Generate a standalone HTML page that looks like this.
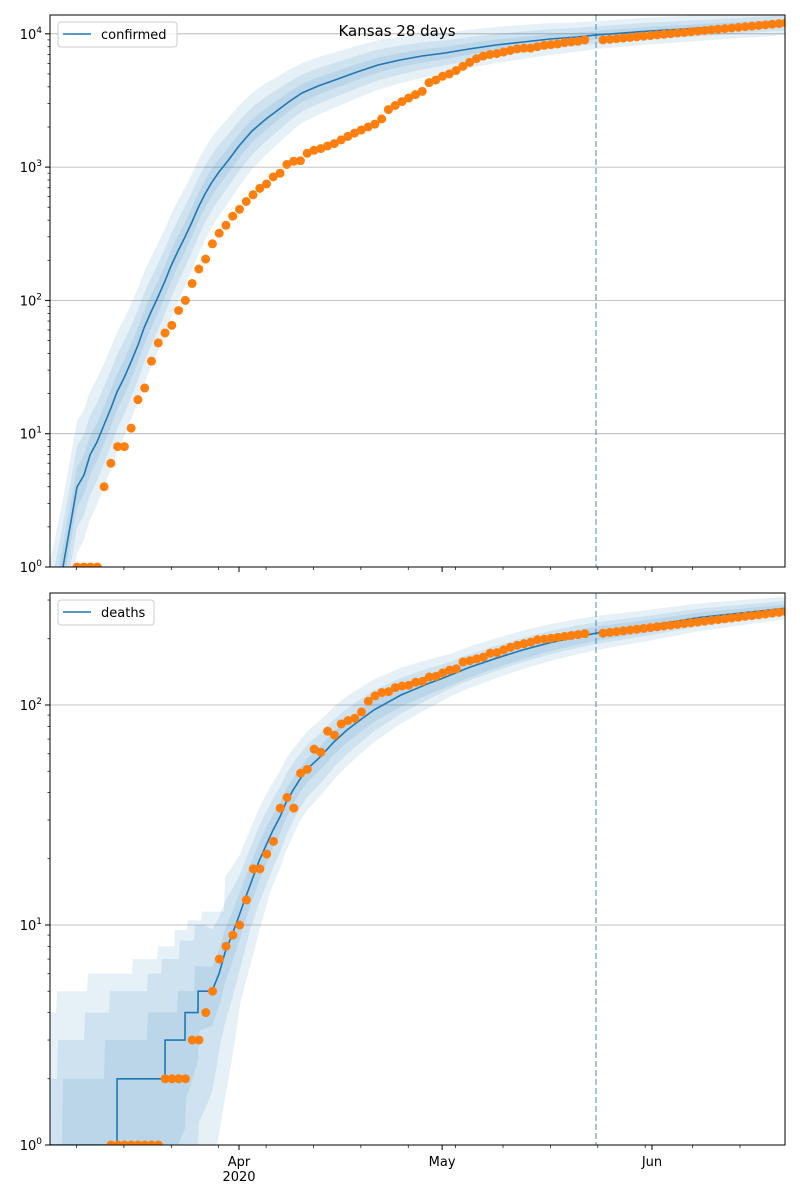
<!DOCTYPE html>
<html><head><meta charset="utf-8"><style>
html,body{margin:0;padding:0;background:#fff;}
svg{display:block;font-family:"DejaVu Sans","Liberation Sans",sans-serif;}
</style></head><body>
<svg id="s" width="800" height="1200" xmlns="http://www.w3.org/2000/svg"></svg>
<script>
const S=document.getElementById('s');
let h='';
const X0=50,X1=785;
function xd(d){return 239+d*6.77;}
function lerp(pts,x){if(x<=pts[0][0])return pts[0][1];for(let i=1;i<pts.length;i++){if(x<=pts[i][0]){const a=pts[i-1],b=pts[i];return a[1]+(b[1]-a[1])*(x-a[0])/(b[0]-a[0]);}}return pts[pts.length-1][1];}
function step(pts,x){let v=pts[0][1];for(const p of pts){if(x>=p[0])v=p[1];}return v;}
function clip(top,bot,id){h+=`<defs><clipPath id="${id}"><rect x="${X0}" y="${top}" width="${X1-X0}" height="${bot-top}"/></clipPath></defs>`;}
// ---------- TOP ----------
const T0=15,TB=567;
function yT(v){return TB-Math.log10(v)*133.3;}
clip(T0,TB,'c1');
for(let k=0;k<=4;k++){const y=TB-k*133.3;h+=`<line x1="${X0}" x2="${X1}" y1="${y}" y2="${y}" stroke="#b0b0b0" stroke-width="0.8"/>`;}
const lineT=[[63,567],[77,487],[84,475],[90,455],[97,442],[104,425],[111,408],[117,392],[124,378],[131,362],[138,345],[144,328],[151,312],[158,297],[165,281],[171,266],[178,251],[185,237],[192,222],[198,208],[205,194],[212,182],[219,172],[227,162],[239,146],[252,131],[266,119],[278,110],[290,101],[302,93],[318,86],[335,80],[357,72],[378,65],[400,60],[422,56],[445,53],[469,49],[496,45],[523,42],[550,39],[577,37],[596,35],[650,31],[700,28],[785,23]];
function bandT(scale){
  const off=[[50,70],[150,55],[230,42],[300,30],[450,20],[596,14],[785,12]];
  let up=[],lo=[];
  for(let x=50;x<=785;x+=3){const y=(x<63?567+(63-x)*5:lerp(lineT,x));const o=lerp(off,x)*scale;up.push([x,y-o]);lo.push([x,y+o]);}
  return up.map(p=>p.join(',')).join(' ')+' '+lo.reverse().map(p=>p.join(',')).join(' ');
}
h+=`<g clip-path="url(#c1)">`;
[1,0.62,0.3].forEach(s=>{h+=`<polygon points="${bandT(s)}" fill="#1f77b4" fill-opacity="0.11"/>`;});
h+=`<polyline points="${lineT.map(p=>p.join(',')).join(' ')}" fill="none" stroke="#1f77b4" stroke-width="1.6"/>`;
h+=`<line x1="596" x2="596" y1="${T0}" y2="${TB}" stroke="#1f77b4" stroke-opacity="0.55" stroke-width="1.5" stroke-dasharray="6,3"/>`;
const dT=[1,1,1,1,4,6,8,8,11,18,22,35,48,57,65,84,100,134,172,204,266,319,366,428,482,552,620,693,747,845,900,1046,1106,1116,1270,1337,1376,1440,1500,1600,1700,1800,1900,2000,2100,2300,2700,2900,3100,3300,3500,3700,4300,4500,4800,5000,5300,5700,6100,6500,6800,7000,7100,7300,7500,7700,7800,7800,8000,8200,8300,8400,8600,8700,8800,9000];
dT.forEach((v,i)=>{const x=77+i*6.77;h+=`<circle cx="${x}" cy="${yT(v)}" r="4.5" fill="#ff7f0e"/>`;});
for(let x=603;x<=786;x+=6.77){const v=9000*Math.pow(12000/9000,(x-603)/180);h+=`<circle cx="${x}" cy="${yT(v)}" r="4.5" fill="#ff7f0e"/>`;}
h+=`</g>`;
// ---------- BOTTOM ----------
const B0=593,BB=1145;
function yB(v){return BB-Math.log10(v)*220;}
clip(B0,BB,'c2');
for(let k=0;k<=2;k++){const y=BB-k*220;h+=`<line x1="${X0}" x2="${X1}" y1="${y}" y2="${y}" stroke="#b0b0b0" stroke-width="0.8"/>`;}
const lineBv=[[50,1],[117,1],[117.1,2],[165,2],[165.1,3],[185,3],[185.1,4],[198,4],[198.1,5],[212,5],[219,6],[225,7.5],[232,9],[239,11],[246,13.5],[252,16],[259,19.5],[266,23],[273,27],[280,31],[286,36],[293,41],[300,46],[307,51],[320,58],[334,68],[347,77],[361,86],[374,95],[388,103],[401,111],[415,118],[428,125],[442,132],[469,148],[496,163],[523,178],[550,192],[577,204],[596,212],[650,230],[700,250],[785,275]];
function lnB(x){const p=lineBv;if(x<=p[0][0])return 1;for(let i=1;i<p.length;i++)if(x<=p[i][0]){const a=p[i-1],b=p[i];const t=(x-a[0])/(b[0]-a[0]);return Math.exp(Math.log(a[1])+(Math.log(b[1])-Math.log(a[1]))*t);}return p[p.length-1][1];}
const bands=[
 {steps:[[50,4],[57,5],[88,6],[133,7],[158,8],[175,9.5],[188,10.5],[202,11.5]],xT:225,fu:[[225,2.2],[240,1.85],[300,1.5],[450,1.25],[785,1.13]],xL:218,fl:[[218,5.5],[240,2.6],[270,1.8],[300,1.55],[450,1.25],[785,1.12]]},
 {steps:[[50,2],[58,3],[85,4],[110,5],[148,6],[162,7],[180,8.5],[195,10]],xT:205,fu:[[205,2],[240,1.5],[300,1.3],[450,1.15],[785,1.08]],xL:198,fl:[[198,4],[220,2.2],[250,1.6],[300,1.35],[450,1.15],[785,1.08]]},
 {steps:[[50,1],[63,2],[105,3],[148,4],[178,5],[195,6.5]],xT:205,fu:[[205,1.3],[240,1.25],[300,1.12],[785,1.04]],xL:178,fl:[[178,3],[200,1.5],[250,1.25],[300,1.15],[785,1.04]]}
];
function bandB(b){
  let up=[],lo=[];
  for(let x=50;x<=785;x+=1){
    const v=lnB(x);
    const u=x<b.xT?step(b.steps,x):v*lerp(b.fu,x);
    let l=x<b.xL?1:Math.max(1,v/lerp(b.fl,x));
    up.push([x,yB(u)]);lo.push([x,x<b.xL?BB+5:yB(l)]);
  }
  return up.map(p=>p.join(',')).join(' ')+' '+lo.reverse().map(p=>p.join(',')).join(' ');
}
h+=`<g clip-path="url(#c2)">`;
bands.forEach(b=>{h+=`<polygon points="${bandB(b)}" fill="#1f77b4" fill-opacity="0.11"/>`;});
h+=`<polyline points="${lineBv.map(p=>p[0]+','+yB(p[1])).join(' ')}" fill="none" stroke="#1f77b4" stroke-width="1.6"/>`;
h+=`<line x1="596" x2="596" y1="${B0}" y2="${BB}" stroke="#1f77b4" stroke-opacity="0.55" stroke-width="1.5" stroke-dasharray="6,3"/>`;
const dB=[1,1,1,1,1,1,1,1,2,2,2,2,3,3,4,5,7,8,9,10,13,18,18,21,24,34,38,34,49,51,63,61,76,73,82,85,87,93,104,110,114,115,120,122,123,127,128,134,135,140,144,146,157,159,162,165,172,173,178,183,187,190,193,198,199,201,203,205,207,209,211];
dB.forEach((v,i)=>{const x=111+i*6.77;h+=`<circle cx="${x}" cy="${yB(v)}" r="4.5" fill="#ff7f0e"/>`;});
for(let x=603;x<=786;x+=6.77){const v=212*Math.pow(265/212,(x-603)/180);h+=`<circle cx="${x}" cy="${yB(v)}" r="4.5" fill="#ff7f0e"/>`;}
h+=`</g>`;
function frame(top,bot,decs,pxd,labels){
  h+=`<rect x="${X0}" y="${top}" width="${X1-X0}" height="${bot-top}" fill="none" stroke="#000" stroke-width="1"/>`;
  for(let k=0;k<decs.length;k++){
    const y=bot-decs[k]*pxd;
    h+=`<line x1="${X0-5}" x2="${X0}" y1="${y}" y2="${y}" stroke="#000"/>`;
    h+=`<text x="${X0-8}" y="${y+5}" font-size="13" text-anchor="end">10<tspan dy="-6" font-size="9">${decs[k]}</tspan></text>`;
  }
  for(let k=0;k<6;k++)for(let m=2;m<10;m++){const y=bot-(k+Math.log10(m))*pxd;if(y<top)continue;h+=`<line x1="${X0-2.5}" x2="${X0}" y1="${y}" y2="${y}" stroke="#000" stroke-width="0.7"/>`;}
  [0,30,61].forEach(d=>{const x=xd(d);h+=`<line x1="${x}" x2="${x}" y1="${bot}" y2="${bot+5}" stroke="#000"/>`;});
  for(let d=-24;d<=81;d+=7){const x=xd(d);if(x<X0-0.5||x>X1+0.5)continue;h+=`<line x1="${x}" x2="${x}" y1="${bot}" y2="${bot+3}" stroke="#000" stroke-width="0.7"/>`;}
  if(labels){h+=`<text x="${xd(0)}" y="${bot+21}" font-size="13" text-anchor="middle">Apr</text><text x="${xd(0)}" y="${bot+36}" font-size="13" text-anchor="middle">2020</text><text x="${xd(30)}" y="${bot+21}" font-size="13" text-anchor="middle">May</text><text x="${xd(61)}" y="${bot+21}" font-size="13" text-anchor="middle">Jun</text>`;}
}
frame(T0,TB,[0,1,2,3,4],133.3,false);
frame(B0,BB,[0,1,2],220,true);
h+=`<rect x="58" y="22" width="119" height="25" rx="3" fill="#fff" fill-opacity="0.8" stroke="#ccc"/><line x1="63" x2="91" y1="34" y2="34" stroke="#1f77b4" stroke-width="1.6"/><text x="101" y="39" font-size="13">confirmed</text>`;
h+=`<rect x="58" y="600" width="96" height="25" rx="3" fill="#fff" fill-opacity="0.8" stroke="#ccc"/><line x1="63" x2="91" y1="612" y2="612" stroke="#1f77b4" stroke-width="1.6"/><text x="101" y="617" font-size="13">deaths</text>`;
h+=`<text x="397" y="36" font-size="15" text-anchor="middle">Kansas 28 days</text>`;
S.innerHTML=h;
</script>
</body></html>
